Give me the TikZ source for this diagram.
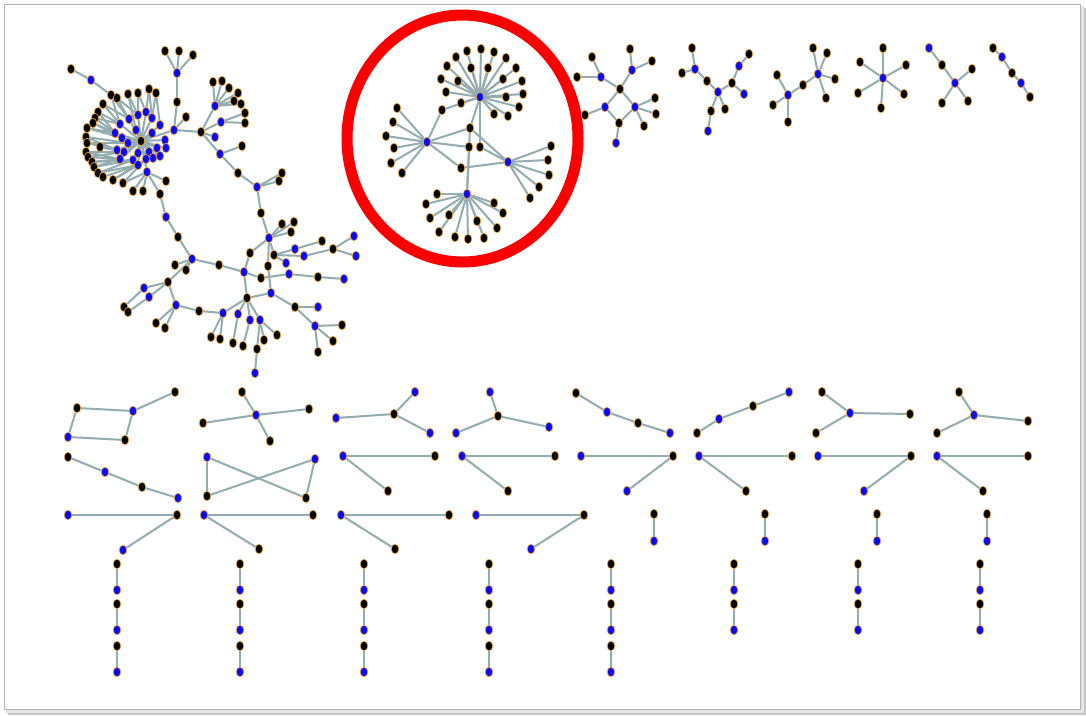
\documentclass[tikz,border=0pt]{standalone}
\usetikzlibrary{shapes.geometric}
\pgfdeclarelayer{frame}\pgfdeclarelayer{bg}
\pgfsetlayers{frame,bg,main}
\definecolor{nblue}{RGB}{10,10,245}
\definecolor{nring}{RGB}{225,160,60}
\definecolor{ecol}{RGB}{146,172,175}
\definecolor{ringred}{RGB}{250,0,0}
\tikzset{
 nd/.style={ellipse,inner sep=0pt,minimum width=7.5pt,minimum height=9.5pt,draw=nring,line width=0.7pt},
 kn/.style={nd,fill=black},
 bn/.style={nd,fill=nblue},
 ed/.style={draw=ecol,line width=2pt},
}
\newcommand\NK[3]{\node[kn] (#1) at (#2,#3) {};}
\newcommand\NB[3]{\node[bn] (#1) at (#2,#3) {};}
\begin{document}
\begin{tikzpicture}[x=1pt,y=-1pt]
\useasboundingbox (0,0) rectangle (1086,715);
\begin{pgfonlayer}{frame}
\fill[black!22] (8,8) rectangle (1086,715);
\fill[black!10] (6,6) rectangle (1084,713);
\filldraw[fill=white,draw=black!30,line width=0.8pt] (4,4) rectangle (1080,709);
\end{pgfonlayer}

% ---------- big component ----------
\NK{g1}{165}{51}\NK{g2}{179}{51}\NK{g3}{193}{55}\NB{g4}{177}{73}\NK{g5}{177}{102}\NB{g6}{174}{130}\NK{g7}{186}{117}
\NK{g8}{71}{69}\NB{g9}{91}{80}\NK{g10}{111}{95}
\NK{c0}{141}{141}
\NB{c1}{138}{115}\NB{c2}{146}{112}\NB{c3}{129}{119}\NB{c4}{152}{118}\NB{c5}{120}{124}\NB{c6}{136}{130}\NB{c7}{160}{125}\NB{c8}{115}{133}\NB{c9}{122}{138}\NB{c10}{128}{143}\NB{c11}{152}{133}\NB{c12}{165}{140}\NB{c13}{117}{150}\NB{c14}{124}{152}\NB{c15}{138}{153}\NB{c16}{149}{152}\NB{c17}{157}{148}\NB{c18}{166}{148}\NB{c19}{120}{159}\NB{c20}{133}{160}\NB{c21}{138}{165}\NB{c22}{146}{159}\NB{c23}{153}{158}\NB{c24}{160}{156}\NB{c25}{147}{172}
\NK{o2}{117}{98}\NK{o3}{128}{94}\NK{o4}{138}{93}\NK{o5}{149}{89}\NK{o6}{156}{93}\NK{o7}{103}{104}\NK{o8}{98}{112}\NK{o9}{95}{118}\NK{o10}{93}{123}\NK{o11}{87}{128}\NK{o12}{86}{137}\NK{o13}{87}{143}\NK{o14}{100}{147}\NK{o15}{86}{152}\NK{o16}{88}{157}\NK{o17}{92}{162}\NK{o18}{94}{167}\NK{o19}{98}{173}\NK{o20}{103}{177}\NK{o21}{113}{180}\NK{o22}{123}{183}
\NK{d1}{133}{191}\NK{d2}{143}{191}\NK{d3}{166}{181}\NK{d4}{160}{194}
\NB{g11}{166}{217}\NK{g12}{178}{237}\NB{g13}{192}{259}\NK{g14}{175}{265}\NK{g15}{186}{270}\NK{g16}{168}{282}\NB{g17}{144}{288}\NB{g18}{149}{297}\NB{g19}{176}{305}\NK{g20}{124}{307}\NK{g21}{128}{312}\NK{g22}{156}{323}\NK{g23}{165}{328}\NK{g24}{199}{311}\NB{g25}{223}{313}\NK{g26}{211}{337}\NK{g27}{220}{339}\NK{g28}{247}{298}\NK{g29}{219}{265}\NB{g30}{244}{272}\NK{g31}{250}{253}\NB{g32}{238}{314}\NB{g33}{250}{320}\NB{g34}{260}{320}\NB{g35}{271}{293}\NK{g36}{233}{343}\NK{g37}{243}{346}\NK{g38}{257}{349}\NK{g39}{264}{340}\NK{g40}{277}{335}\NB{g41}{255}{373}\NK{g42}{295}{307}\NB{g43}{318}{307}\NB{g44}{315}{326}\NK{g45}{342}{325}\NK{g46}{333}{341}\NK{g47}{318}{352}\NK{g48}{268}{266}\NB{g49}{269}{238}\NK{g50}{261}{213}\NB{g51}{257}{187}\NK{g52}{238}{173}\NK{g53}{279}{181}\NK{g54}{282}{173}\NK{g55}{282}{224}\NK{g56}{294}{222}\NK{g57}{291}{232}\NK{g58}{274}{255}\NB{g59}{295}{249}\NB{g60}{304}{256}\NB{g61}{286}{263}\NB{g62}{289}{274}\NK{g63}{322}{241}\NK{g64}{333}{249}\NB{g65}{354}{236}\NB{g66}{356}{256}\NK{g67}{318}{277}\NB{g68}{344}{279}\NK{g69}{261}{278}\NB{g70}{220}{154}\NK{g71}{242}{146}\NK{g72}{201}{132}\NB{g73}{215}{137}\NB{g74}{221}{122}\NB{g75}{215}{106}\NK{g76}{213}{82}\NK{g77}{222}{81}\NK{g78}{229}{88}\NK{g79}{238}{93}\NK{g80}{234}{101}\NK{g81}{241}{104}\NK{g82}{245}{113}\NK{g83}{245}{123}

% ---------- circled component ----------
\NB{h1}{480}{97}\NB{h2}{427}{142}\NB{h3}{508}{162}\NB{h4}{467}{194}
\NK{m1}{442}{110}\NK{m2}{470}{128}\NK{m3}{469}{147}\NK{m4}{480}{147}\NK{m5}{461}{168}
\foreach \x/\y [count=\i] in {456/57,467/51,481/49,494/52,506/58,447/66,516/68,471/68,488/68,441/79,458/81,503/79,522/81,446/92,506/97,523/94,519/107,494/114,508/116,461/103}
  {\node[kn] (ha\i) at (\x,\y) {};}
\foreach \x/\y [count=\i] in {397/108,393/122,386/136,394/148,391/163,402/173}
  {\node[kn] (hb\i) at (\x,\y) {};}
\foreach \x/\y [count=\i] in {551/146,548/160,549/175,539/187,530/198}
  {\node[kn] (hc\i) at (\x,\y) {};}
\foreach \x/\y [count=\i] in {437/194,426/204,430/218,449/215,439/232,455/237,468/239,484/238,477/221,497/228,503/213,494/203}
  {\node[kn] (hd\i) at (\x,\y) {};}
\draw[ringred,line width=11pt] (462.5,138.5) ellipse [x radius=115.5pt,y radius=123.5pt];

% ---------- top right small components ----------
\NK{u1}{592}{57}\NK{u2}{577}{77}\NB{u3}{601}{77}\NK{u4}{630}{49}\NB{u5}{632}{70}\NK{u6}{652}{61}\NK{u7}{620}{89}\NB{u8}{605}{107}\NB{u9}{635}{107}\NK{u10}{585}{115}\NK{u11}{655}{98}\NK{u12}{656}{114}\NK{u13}{644}{126}\NK{u14}{619}{123}\NB{u15}{616}{143}
\NK{v1}{692}{48}\NB{v2}{695}{69}\NK{v3}{682}{73}\NK{v4}{707}{81}\NB{v5}{718}{92}\NK{v6}{732}{83}\NB{v7}{739}{66}\NK{v8}{749}{54}\NB{v9}{744}{94}\NK{v10}{711}{111}\NK{v11}{725}{109}\NB{v12}{708}{131}
\NK{w1}{777}{75}\NB{w2}{788}{95}\NK{w3}{773}{105}\NK{w4}{788}{122}\NK{w5}{803}{85}\NB{w6}{818}{74}\NK{w7}{813}{48}\NK{w8}{827}{53}\NK{w9}{835}{79}\NK{w10}{826}{98}
\NB{x0}{883}{78}\NK{x1}{883}{48}\NK{x2}{860}{62}\NK{x3}{906}{65}\NK{x4}{858}{93}\NK{x5}{904}{94}\NK{x6}{881}{108}
\NB{y1}{929}{48}\NK{y2}{942}{65}\NB{y3}{955}{83}\NK{y4}{972}{69}\NK{y5}{942}{103}\NK{y6}{968}{101}
\NK{z1}{993}{48}\NB{z2}{1002}{57}\NK{z3}{1012}{73}\NB{z4}{1021}{83}\NK{z5}{1030}{97}

% ---------- grid components ----------
\NK{a1}{77}{408}\NB{a2}{133}{411}\NK{a3}{175}{392}\NB{a4}{68}{437}\NK{a5}{125}{440}
\NK{b1}{242}{392}\NB{b0}{256}{415}\NK{b2}{203}{423}\NK{b3}{309}{409}\NK{b4}{270}{441}
\NB{cc1}{336}{418}\NK{cc0}{394}{414}\NB{cc2}{415}{392}\NB{cc3}{430}{433}
\NB{dd1}{490}{392}\NK{dd0}{498}{416}\NB{dd2}{456}{433}\NB{dd3}{549}{427}
\NK{e1}{68}{457}\NB{e2}{105}{472}\NK{e3}{142}{487}\NB{e4}{178}{498}
\NB{f1}{207}{457}\NB{f2}{315}{459}\NK{f3}{207}{496}\NK{f4}{306}{498}
\NB{gg0}{343}{456}\NK{gg1}{435}{456}\NK{gg2}{388}{491}
\NB{hh0}{462}{456}\NK{hh1}{555}{456}\NK{hh2}{508}{491}
\NB{ii1}{68}{515}\NK{ii0}{177}{515}\NB{ii2}{123}{550}
\NB{jj0}{204}{515}\NK{jj1}{313}{515}\NK{jj2}{259}{549}
\NB{kk0}{341}{515}\NK{kk1}{449}{515}\NK{kk2}{395}{549}
\NB{ll1}{476}{515}\NK{ll0}{584}{515}\NB{ll2}{531}{549}
\NK{mm1}{576}{393}\NB{mm2}{607}{412}\NK{mm3}{638}{423}\NB{mm4}{670}{433}
\NK{nn1}{697}{433}\NB{nn2}{719}{419}\NK{nn3}{753}{406}\NB{nn4}{789}{392}
\NB{oo0}{850}{413}\NK{oo1}{822}{392}\NK{oo2}{910}{414}\NK{oo3}{816}{433}
\NB{pp0}{974}{415}\NK{pp1}{959}{392}\NK{pp2}{1028}{421}\NK{pp3}{937}{433}
\NB{qq1}{581}{456}\NK{qq0}{673}{456}\NB{qq2}{627}{491}
\NB{rr0}{699}{456}\NK{rr1}{792}{456}\NK{rr2}{746}{491}
\NB{ss1}{818}{456}\NK{ss0}{911}{456}\NB{ss2}{864}{491}
\NB{tt0}{937}{456}\NK{tt1}{1028}{456}\NK{tt2}{983}{491}
\foreach \x [count=\i] in {654,765,877,987}
  {\node[kn] (pt\i) at (\x,514) {}; \node[bn] (pb\i) at (\x,541) {};}
\foreach \x [count=\i] in {117,240,364,489,611}
  {\foreach \y [count=\j] in {564,604,646}
    {\node[kn] (qt\i-\j) at (\x,\y) {}; \node[bn] (qb\i-\j) at (\x,\y+26) {};}}
\foreach \x [count=\i] in {734,858,980}
  {\foreach \y [count=\j] in {564,604}
    {\node[kn] (rt\i-\j) at (\x,\y) {}; \node[bn] (rb\i-\j) at (\x,\y+26) {};}}

% ---------- edges ----------
\begin{pgfonlayer}{bg}
\foreach \a/\b in {g4/g1,g4/g2,g4/g3,g4/g5,g5/g6,g6/g7,g6/c0,g8/g9,g9/g10,g10/c3,g10/c5,
 c1/c0,c2/c0,c3/c0,c4/c0,c5/c0,c6/c0,c7/c0,c8/c0,c9/c0,c10/c0,c11/c0,c12/c0,c13/c0,c14/c0,c15/c0,c16/c0,c17/c0,c18/c0,c19/c0,c20/c0,c21/c0,c22/c0,c23/c0,c24/c0,c25/c0,
 o2/c1,o2/c3,o3/c1,o3/c6,o4/c1,o4/c2,o5/c2,o5/c4,o6/c4,o6/c7,o7/c5,o7/c3,o8/c5,o8/c8,o9/c8,o9/c5,o10/c8,o10/c9,o11/c9,o11/c8,o12/c10,o12/c13,o13/c13,o13/c10,o14/c13,o14/c14,o15/c14,o15/c19,o16/c19,o16/c14,o17/c19,o17/c20,o18/c20,o18/c19,o19/c20,o19/c21,o20/c21,o21/c21,o21/c22,o22/c22,o22/c25,
 c25/d1,c25/d2,c25/d3,c25/d4,d4/g11,g11/g12,g12/g13,g13/g14,g13/g15,g13/g16,g13/g29,g29/g30,g16/g17,g16/g18,g16/g19,g17/g20,g18/g21,g19/g22,g19/g23,g19/g24,g24/g25,g25/g26,g25/g27,g25/g28,g28/g30,g28/g32,g28/g33,g28/g34,g28/g35,g32/g36,g33/g37,g34/g38,g34/g39,g34/g40,g38/g41,
 g35/g42,g42/g43,g42/g44,g44/g45,g44/g46,g44/g47,g49/g48,g48/g35,g30/g31,g31/g49,g49/g50,g50/g51,g51/g52,g51/g53,g51/g54,g49/g55,g49/g56,g49/g57,g49/g58,g58/g59,g58/g60,g58/g61,g30/g69,g69/g62,g62/g67,g67/g68,g59/g63,g60/g64,g64/g65,g64/g66,
 g52/g70,g70/g71,g70/g72,g72/g6,g72/g73,g72/g74,g72/g75,g75/g76,g75/g77,g75/g78,g75/g79,g75/g80,g75/g81,g74/g82,g74/g83}
  {\draw[ed] (\a) -- (\b);}
\foreach \i in {1,...,20} {\draw[ed] (h1) -- (ha\i);}
\foreach \i in {1,...,6} {\draw[ed] (h2) -- (hb\i);}
\foreach \i in {1,...,5} {\draw[ed] (h3) -- (hc\i);}
\foreach \i in {1,...,12} {\draw[ed] (h4) -- (hd\i);}
\foreach \a/\b in {h1/m1,m1/h2,h1/m2,h2/m2,m2/h3,h2/m3,m3/h4,h1/m4,m4/h3,h2/m5,m5/h3,m2/h4,
 u1/u3,u2/u3,u3/u7,u4/u5,u5/u6,u5/u7,u7/u8,u7/u9,u8/u10,u8/u14,u14/u9,u9/u11,u9/u12,u9/u13,u14/u15,
 v1/v2,v2/v3,v2/v4,v4/v5,v5/v6,v6/v7,v7/v8,v6/v9,v5/v10,v10/v12,v5/v11,
 w2/w1,w2/w3,w2/w4,w2/w5,w5/w6,w6/w7,w6/w8,w6/w9,w6/w10,
 x0/x1,x0/x2,x0/x3,x0/x4,x0/x5,x0/x6,
 y1/y2,y2/y3,y3/y4,y3/y5,y3/y6,
 z1/z2,z2/z3,z3/z4,z4/z5,
 a1/a2,a2/a3,a1/a4,a4/a5,a2/a5,
 b0/b1,b0/b2,b0/b3,b0/b4,
 cc0/cc1,cc0/cc2,cc0/cc3,
 dd0/dd1,dd0/dd2,dd0/dd3,
 e1/e2,e2/e3,e3/e4,
 f1/f3,f1/f4,f2/f3,f2/f4,
 gg0/gg1,gg0/gg2,hh0/hh1,hh0/hh2,
 ii0/ii1,ii0/ii2,jj0/jj1,jj0/jj2,kk0/kk1,kk0/kk2,ll0/ll1,ll0/ll2,
 mm1/mm2,mm2/mm3,mm3/mm4,nn1/nn2,nn2/nn3,nn3/nn4,
 oo0/oo1,oo0/oo2,oo0/oo3,pp0/pp1,pp0/pp2,pp0/pp3,
 qq0/qq1,qq0/qq2,rr0/rr1,rr0/rr2,ss0/ss1,ss0/ss2,tt0/tt1,tt0/tt2}
  {\draw[ed] (\a) -- (\b);}
\foreach \i in {1,...,4} {\draw[ed] (pt\i) -- (pb\i);}
\foreach \i in {1,...,5} {\foreach \j in {1,2,3} {\draw[ed] (qt\i-\j) -- (qb\i-\j);}}
\foreach \i in {1,2,3} {\foreach \j in {1,2} {\draw[ed] (rt\i-\j) -- (rb\i-\j);}}
\end{pgfonlayer}
\end{tikzpicture}
\end{document}
